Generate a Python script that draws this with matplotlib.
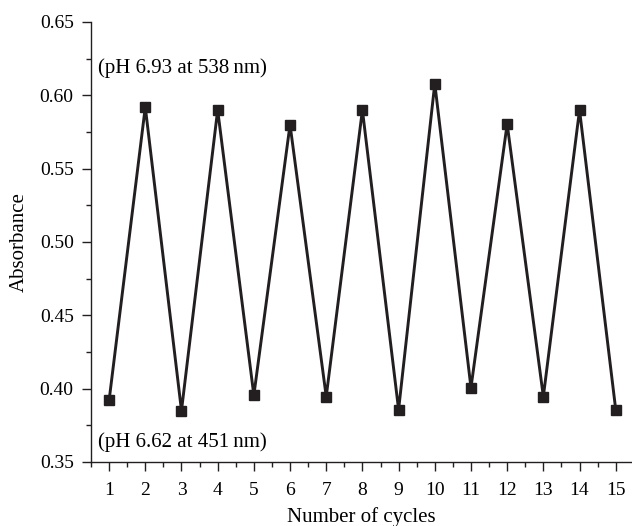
import numpy as np
import matplotlib.pyplot as plt
from matplotlib.ticker import MultipleLocator

# Absorbance over repeated pH switching cycles
cycles = np.arange(1, 16)
absorbance = [0.392, 0.592, 0.385, 0.590, 0.3955, 0.580, 0.3946, 0.590,
              0.3857, 0.608, 0.4007, 0.5805, 0.3946, 0.590, 0.3857]
top_label = "(pH 6.93 at 538\u2009nm)"
bottom_label = "(pH 6.62 at 451\u2009nm)"

plt.rcParams['font.family'] = ['Liberation Serif', 'DejaVu Serif']
plt.rcParams['font.size'] = 15

fig = plt.figure(figsize=(6.32, 5.26), dpi=100)
ax = fig.add_axes([0.144, 0.1217, 0.856, 0.8365])

ax.plot(cycles, absorbance, color="#231f20", lw=2.1, marker="s", ms=6.5,
        mec="#231f20", mfc="#231f20")

ax.set_xlim(0.5, 15.45)
ax.set_ylim(0.35, 0.65)
ax.xaxis.set_major_locator(MultipleLocator(1))
ax.xaxis.set_minor_locator(MultipleLocator(0.5))
ax.yaxis.set_major_locator(MultipleLocator(0.05))
ax.yaxis.set_minor_locator(MultipleLocator(0.025))
ax.yaxis.set_major_formatter(plt.FormatStrFormatter("%.2f"))

for side in ["top", "right"]:
    ax.spines[side].set_visible(False)
for side in ["left", "bottom"]:
    ax.spines[side].set_color("#231f20")
    ax.spines[side].set_linewidth(1.0)

ax.tick_params(which="major", length=6.5, width=1.0, color="#231f20", labelsize=14)
ax.tick_params(axis="y", which="major", pad=6)
ax.tick_params(axis="x", which="major", pad=8)
ax.tick_params(which="minor", length=3.5, width=1.0, color="#231f20")

ax.text(0.013, 0.894, top_label, transform=ax.transAxes, va="center", ha="left")
ax.text(0.013, 0.044, bottom_label, transform=ax.transAxes, va="center", ha="left")

ax.set_xlabel("Number of cycles", labelpad=6)
ax.set_ylabel("Absorbance", labelpad=8)

fig.savefig("out.png", dpi=100)
